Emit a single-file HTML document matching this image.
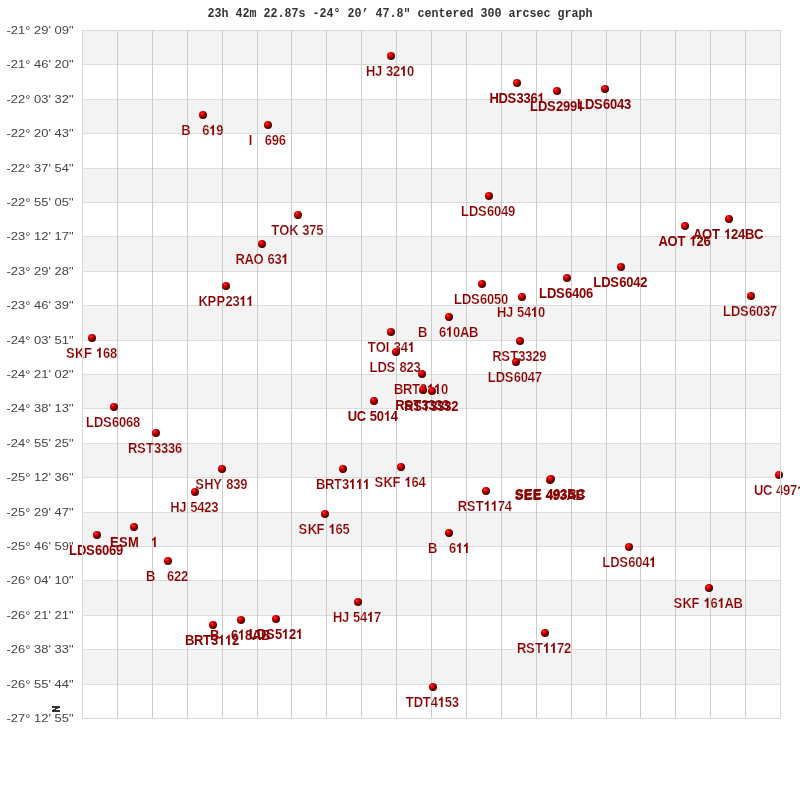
<!DOCTYPE html><html><head><meta charset="utf-8"><style>html,body{margin:0;padding:0;background:#fff;width:800px;height:800px;overflow:hidden}svg{display:block}</style></head><body>
<svg width="800" height="800" viewBox="0 0 800 800" style="will-change:transform">
<defs><radialGradient id="g" cx="0.36" cy="0.33" r="0.72" fx="0.36" fy="0.3"><stop offset="0" stop-color="#ff8a8a"/><stop offset="0.1" stop-color="#ff1a1a"/><stop offset="0.3" stop-color="#e40000"/><stop offset="0.52" stop-color="#a80000"/><stop offset="0.78" stop-color="#620000"/><stop offset="1" stop-color="#3a0000"/></radialGradient></defs>
<rect x="0" y="0" width="800" height="800" fill="#fff"/>
<rect x="82" y="30" width="698" height="34" fill="#f3f3f3"/>
<rect x="82" y="99" width="698" height="34" fill="#f3f3f3"/>
<rect x="82" y="168" width="698" height="34" fill="#f3f3f3"/>
<rect x="82" y="236" width="698" height="35" fill="#f3f3f3"/>
<rect x="82" y="305" width="698" height="35" fill="#f3f3f3"/>
<rect x="82" y="374" width="698" height="34" fill="#f3f3f3"/>
<rect x="82" y="443" width="698" height="34" fill="#f3f3f3"/>
<rect x="82" y="512" width="698" height="34" fill="#f3f3f3"/>
<rect x="82" y="580" width="698" height="35" fill="#f3f3f3"/>
<rect x="82" y="649" width="698" height="35" fill="#f3f3f3"/>
<rect x="82" y="64" width="699" height="1" fill="#dedede"/>
<rect x="82" y="99" width="699" height="1" fill="#dedede"/>
<rect x="82" y="133" width="699" height="1" fill="#dedede"/>
<rect x="82" y="168" width="699" height="1" fill="#dedede"/>
<rect x="82" y="202" width="699" height="1" fill="#dedede"/>
<rect x="82" y="236" width="699" height="1" fill="#dedede"/>
<rect x="82" y="271" width="699" height="1" fill="#dedede"/>
<rect x="82" y="305" width="699" height="1" fill="#dedede"/>
<rect x="82" y="340" width="699" height="1" fill="#dedede"/>
<rect x="82" y="374" width="699" height="1" fill="#dedede"/>
<rect x="82" y="408" width="699" height="1" fill="#dedede"/>
<rect x="82" y="443" width="699" height="1" fill="#dedede"/>
<rect x="82" y="477" width="699" height="1" fill="#dedede"/>
<rect x="82" y="512" width="699" height="1" fill="#dedede"/>
<rect x="82" y="546" width="699" height="1" fill="#dedede"/>
<rect x="82" y="580" width="699" height="1" fill="#dedede"/>
<rect x="82" y="615" width="699" height="1" fill="#dedede"/>
<rect x="82" y="649" width="699" height="1" fill="#dedede"/>
<rect x="82" y="684" width="699" height="1" fill="#dedede"/>
<rect x="117" y="30" width="1" height="689" fill="#cccccc"/>
<rect x="152" y="30" width="1" height="689" fill="#cccccc"/>
<rect x="187" y="30" width="1" height="689" fill="#cccccc"/>
<rect x="222" y="30" width="1" height="689" fill="#cccccc"/>
<rect x="257" y="30" width="1" height="689" fill="#cccccc"/>
<rect x="291" y="30" width="1" height="689" fill="#cccccc"/>
<rect x="326" y="30" width="1" height="689" fill="#cccccc"/>
<rect x="361" y="30" width="1" height="689" fill="#cccccc"/>
<rect x="396" y="30" width="1" height="689" fill="#cccccc"/>
<rect x="431" y="30" width="1" height="689" fill="#cccccc"/>
<rect x="466" y="30" width="1" height="689" fill="#cccccc"/>
<rect x="501" y="30" width="1" height="689" fill="#cccccc"/>
<rect x="536" y="30" width="1" height="689" fill="#cccccc"/>
<rect x="571" y="30" width="1" height="689" fill="#cccccc"/>
<rect x="606" y="30" width="1" height="689" fill="#cccccc"/>
<rect x="640" y="30" width="1" height="689" fill="#cccccc"/>
<rect x="675" y="30" width="1" height="689" fill="#cccccc"/>
<rect x="710" y="30" width="1" height="689" fill="#cccccc"/>
<rect x="745" y="30" width="1" height="689" fill="#cccccc"/>
<text x="207.5" y="17" font-family="Liberation Mono, monospace" font-weight="bold" font-size="12" fill="#333" textLength="385" lengthAdjust="spacingAndGlyphs">23h 42m 22.87s -24° 20’ 47.8" centered 300 arcsec graph</text>
<text x="73.5" y="34" text-anchor="end" font-family="Liberation Sans, sans-serif" font-size="11" fill="#444" textLength="67" lengthAdjust="spacingAndGlyphs">-21° 29' 09"</text>
<text x="73.5" y="68" text-anchor="end" font-family="Liberation Sans, sans-serif" font-size="11" fill="#444" textLength="67" lengthAdjust="spacingAndGlyphs">-21° 46' 20"</text>
<text x="73.5" y="103" text-anchor="end" font-family="Liberation Sans, sans-serif" font-size="11" fill="#444" textLength="67" lengthAdjust="spacingAndGlyphs">-22° 03' 32"</text>
<text x="73.5" y="137" text-anchor="end" font-family="Liberation Sans, sans-serif" font-size="11" fill="#444" textLength="67" lengthAdjust="spacingAndGlyphs">-22° 20' 43"</text>
<text x="73.5" y="172" text-anchor="end" font-family="Liberation Sans, sans-serif" font-size="11" fill="#444" textLength="67" lengthAdjust="spacingAndGlyphs">-22° 37' 54"</text>
<text x="73.5" y="206" text-anchor="end" font-family="Liberation Sans, sans-serif" font-size="11" fill="#444" textLength="67" lengthAdjust="spacingAndGlyphs">-22° 55' 05"</text>
<text x="73.5" y="240" text-anchor="end" font-family="Liberation Sans, sans-serif" font-size="11" fill="#444" textLength="67" lengthAdjust="spacingAndGlyphs">-23° 12' 17"</text>
<text x="73.5" y="275" text-anchor="end" font-family="Liberation Sans, sans-serif" font-size="11" fill="#444" textLength="67" lengthAdjust="spacingAndGlyphs">-23° 29' 28"</text>
<text x="73.5" y="309" text-anchor="end" font-family="Liberation Sans, sans-serif" font-size="11" fill="#444" textLength="67" lengthAdjust="spacingAndGlyphs">-23° 46' 39"</text>
<text x="73.5" y="344" text-anchor="end" font-family="Liberation Sans, sans-serif" font-size="11" fill="#444" textLength="67" lengthAdjust="spacingAndGlyphs">-24° 03' 51"</text>
<text x="73.5" y="378" text-anchor="end" font-family="Liberation Sans, sans-serif" font-size="11" fill="#444" textLength="67" lengthAdjust="spacingAndGlyphs">-24° 21' 02"</text>
<text x="73.5" y="412" text-anchor="end" font-family="Liberation Sans, sans-serif" font-size="11" fill="#444" textLength="67" lengthAdjust="spacingAndGlyphs">-24° 38' 13"</text>
<text x="73.5" y="447" text-anchor="end" font-family="Liberation Sans, sans-serif" font-size="11" fill="#444" textLength="67" lengthAdjust="spacingAndGlyphs">-24° 55' 25"</text>
<text x="73.5" y="481" text-anchor="end" font-family="Liberation Sans, sans-serif" font-size="11" fill="#444" textLength="67" lengthAdjust="spacingAndGlyphs">-25° 12' 36"</text>
<text x="73.5" y="516" text-anchor="end" font-family="Liberation Sans, sans-serif" font-size="11" fill="#444" textLength="67" lengthAdjust="spacingAndGlyphs">-25° 29' 47"</text>
<text x="73.5" y="550" text-anchor="end" font-family="Liberation Sans, sans-serif" font-size="11" fill="#444" textLength="67" lengthAdjust="spacingAndGlyphs">-25° 46' 59"</text>
<text x="73.5" y="584" text-anchor="end" font-family="Liberation Sans, sans-serif" font-size="11" fill="#444" textLength="67" lengthAdjust="spacingAndGlyphs">-26° 04' 10"</text>
<text x="73.5" y="619" text-anchor="end" font-family="Liberation Sans, sans-serif" font-size="11" fill="#444" textLength="67" lengthAdjust="spacingAndGlyphs">-26° 21' 21"</text>
<text x="73.5" y="653" text-anchor="end" font-family="Liberation Sans, sans-serif" font-size="11" fill="#444" textLength="67" lengthAdjust="spacingAndGlyphs">-26° 38' 33"</text>
<text x="73.5" y="688" text-anchor="end" font-family="Liberation Sans, sans-serif" font-size="11" fill="#444" textLength="67" lengthAdjust="spacingAndGlyphs">-26° 55' 44"</text>
<text x="73.5" y="722" text-anchor="end" font-family="Liberation Sans, sans-serif" font-size="11" fill="#444" textLength="67" lengthAdjust="spacingAndGlyphs">-27° 12' 55"</text>
<path fill="#333" d="M52 706h8v2h-8zM55 708h3v1h-3zM53 709h3v1h-3zM52 710h8v2h-8z"/>
<text transform="translate(0,76.05) scale(1,1.1)" x="365.97 374.97 381.97 385.97 392.97 399.97 406.97" y="0" font-family="Liberation Sans, sans-serif" font-weight="bold" font-size="13" fill="#8b0000" stroke="#ffffff" stroke-width="0.2">HJ&#160;32&#160;0</text>
<path fill="#8b0000" transform="translate(399.97,76.05) scale(0.006348,-0.006982)" d="M763 0L482 0L482 1050C380 955 260 885 166 853L166 1107C240 1132 325 1180 410 1247C495 1313 555 1387 590 1466L763 1466Z"/>
<text transform="translate(0,103.05) scale(1,1.1)" x="489.39 498.39 507.39 516.39 523.39 530.39 537.39" y="0" font-family="Liberation Sans, sans-serif" font-weight="bold" font-size="13" fill="#8b0000">HDS336&#160;</text>
<path fill="#8b0000" transform="translate(537.39,103.05) scale(0.006348,-0.006982)" d="M763 0L482 0L482 1050C380 955 260 885 166 853L166 1107C240 1132 325 1180 410 1247C495 1313 555 1387 590 1466L763 1466Z"/>
<text transform="translate(0,111.05) scale(1,1.1)" x="529.89 537.89 546.89 555.89 562.89 569.89 576.89" y="0" font-family="Liberation Sans, sans-serif" font-weight="bold" font-size="13" fill="#8b0000">LDS299&#160;</text>
<path fill="#8b0000" transform="translate(576.89,111.05) scale(0.006348,-0.006982)" d="M763 0L482 0L482 1050C380 955 260 885 166 853L166 1107C240 1132 325 1180 410 1247C495 1313 555 1387 590 1466L763 1466Z"/>
<text transform="translate(0,109.30) scale(1,1.1)" x="576.94 584.94 593.94 602.94 609.94 616.94 623.94" y="0" font-family="Liberation Sans, sans-serif" font-weight="bold" font-size="13" fill="#8b0000">LDS6043</text>
<text transform="translate(0,135.30) scale(1,1.1)" x="181.19 190.19 194.19 198.19 202.19 209.19 216.19" y="0" font-family="Liberation Sans, sans-serif" font-weight="bold" font-size="13" fill="#8b0000" stroke="#ffffff" stroke-width="0.2">B&#160;&#160;&#160;6&#160;9</text>
<path fill="#8b0000" transform="translate(209.19,135.30) scale(0.006348,-0.006982)" d="M763 0L482 0L482 1050C380 955 260 885 166 853L166 1107C240 1132 325 1180 410 1247C495 1313 555 1387 590 1466L763 1466Z"/>
<text transform="translate(0,145.30) scale(1,1.1)" x="248.69 252.69 256.69 260.69 264.69 271.69 278.69" y="0" font-family="Liberation Sans, sans-serif" font-weight="bold" font-size="13" fill="#8b0000" stroke="#ffffff" stroke-width="0.2">I&#160;&#160;&#160;696</text>
<text transform="translate(0,216.05) scale(1,1.1)" x="460.94 468.94 477.94 486.94 493.94 500.94 507.94" y="0" font-family="Liberation Sans, sans-serif" font-weight="bold" font-size="13" fill="#8b0000" stroke="#ffffff" stroke-width="0.2">LDS6049</text>
<text transform="translate(0,235.05) scale(1,1.1)" x="271.24 279.24 289.24 298.24 302.24 309.24 316.24" y="0" font-family="Liberation Sans, sans-serif" font-weight="bold" font-size="13" fill="#8b0000" stroke="#ffffff" stroke-width="0.2">TOK&#160;375</text>
<text transform="translate(0,245.80) scale(1,1.1)" x="658.46 667.46 677.46 685.46 689.46 696.46 703.46" y="0" font-family="Liberation Sans, sans-serif" font-weight="bold" font-size="13" fill="#8b0000">AOT&#160;&#160;26</text>
<path fill="#8b0000" transform="translate(689.46,245.80) scale(0.006348,-0.006982)" d="M763 0L482 0L482 1050C380 955 260 885 166 853L166 1107C240 1132 325 1180 410 1247C495 1313 555 1387 590 1466L763 1466Z"/>
<text transform="translate(0,239.05) scale(1,1.1)" x="693.07 702.07 712.07 720.07 724.07 731.07 738.07 745.07 754.07" y="0" font-family="Liberation Sans, sans-serif" font-weight="bold" font-size="13" fill="#8b0000">AOT&#160;&#160;24BC</text>
<path fill="#8b0000" transform="translate(724.07,239.05) scale(0.006348,-0.006982)" d="M763 0L482 0L482 1050C380 955 260 885 166 853L166 1107C240 1132 325 1180 410 1247C495 1313 555 1387 590 1466L763 1466Z"/>
<text transform="translate(0,264.05) scale(1,1.1)" x="235.39 244.39 253.39 263.39 267.39 274.39 281.39" y="0" font-family="Liberation Sans, sans-serif" font-weight="bold" font-size="13" fill="#8b0000" stroke="#ffffff" stroke-width="0.2">RAO&#160;63&#160;</text>
<path fill="#8b0000" transform="translate(281.39,264.05) scale(0.006348,-0.006982)" d="M763 0L482 0L482 1050C380 955 260 885 166 853L166 1107C240 1132 325 1180 410 1247C495 1313 555 1387 590 1466L763 1466Z"/>
<text transform="translate(0,287.05) scale(1,1.1)" x="593.21 601.21 610.21 619.21 626.21 633.21 640.21" y="0" font-family="Liberation Sans, sans-serif" font-weight="bold" font-size="13" fill="#8b0000">LDS6042</text>
<text transform="translate(0,298.05) scale(1,1.1)" x="538.94 546.94 555.94 564.94 571.94 578.94 585.94" y="0" font-family="Liberation Sans, sans-serif" font-weight="bold" font-size="13" fill="#8b0000">LDS6406</text>
<text transform="translate(0,304.05) scale(1,1.1)" x="453.97 461.97 470.97 479.97 486.97 493.97 500.97" y="0" font-family="Liberation Sans, sans-serif" font-weight="bold" font-size="13" fill="#8b0000" stroke="#ffffff" stroke-width="0.2">LDS6050</text>
<text transform="translate(0,306.05) scale(1,1.1)" x="198.39 207.39 216.39 225.39 232.39 239.39 246.39" y="0" font-family="Liberation Sans, sans-serif" font-weight="bold" font-size="13" fill="#8b0000" stroke="#ffffff" stroke-width="0.2">KPP23&#160;&#160;</text>
<path fill="#8b0000" transform="translate(239.39,306.05) scale(0.006348,-0.006982)" d="M763 0L482 0L482 1050C380 955 260 885 166 853L166 1107C240 1132 325 1180 410 1247C495 1313 555 1387 590 1466L763 1466Z"/>
<path fill="#8b0000" transform="translate(246.39,306.05) scale(0.006348,-0.006982)" d="M763 0L482 0L482 1050C380 955 260 885 166 853L166 1107C240 1132 325 1180 410 1247C495 1313 555 1387 590 1466L763 1466Z"/>
<text transform="translate(0,317.05) scale(1,1.1)" x="496.97 505.97 512.97 516.97 523.97 530.97 537.97" y="0" font-family="Liberation Sans, sans-serif" font-weight="bold" font-size="13" fill="#8b0000" stroke="#ffffff" stroke-width="0.2">HJ&#160;54&#160;0</text>
<path fill="#8b0000" transform="translate(530.97,317.05) scale(0.006348,-0.006982)" d="M763 0L482 0L482 1050C380 955 260 885 166 853L166 1107C240 1132 325 1180 410 1247C495 1313 555 1387 590 1466L763 1466Z"/>
<text transform="translate(0,316.05) scale(1,1.1)" x="722.99 730.99 739.99 748.99 755.99 762.99 769.99" y="0" font-family="Liberation Sans, sans-serif" font-weight="bold" font-size="13" fill="#8b0000" stroke="#ffffff" stroke-width="0.2">LDS6037</text>
<text transform="translate(0,336.80) scale(1,1.1)" x="417.92 426.92 430.92 434.92 438.92 445.92 452.92 459.92 468.92" y="0" font-family="Liberation Sans, sans-serif" font-weight="bold" font-size="13" fill="#8b0000" stroke="#ffffff" stroke-width="0.2">B&#160;&#160;&#160;6&#160;0AB</text>
<path fill="#8b0000" transform="translate(445.92,336.80) scale(0.006348,-0.006982)" d="M763 0L482 0L482 1050C380 955 260 885 166 853L166 1107C240 1132 325 1180 410 1247C495 1313 555 1387 590 1466L763 1466Z"/>
<text transform="translate(0,352.05) scale(1,1.1)" x="367.76 375.76 385.76 389.76 393.76 400.76 407.76" y="0" font-family="Liberation Sans, sans-serif" font-weight="bold" font-size="13" fill="#8b0000" stroke="#ffffff" stroke-width="0.2">TOI&#160;34&#160;</text>
<path fill="#8b0000" transform="translate(407.76,352.05) scale(0.006348,-0.006982)" d="M763 0L482 0L482 1050C380 955 260 885 166 853L166 1107C240 1132 325 1180 410 1247C495 1313 555 1387 590 1466L763 1466Z"/>
<text transform="translate(0,357.80) scale(1,1.1)" x="65.90 74.90 83.90 91.90 95.90 102.90 109.90" y="0" font-family="Liberation Sans, sans-serif" font-weight="bold" font-size="13" fill="#8b0000" stroke="#ffffff" stroke-width="0.2">SKF&#160;&#160;68</text>
<path fill="#8b0000" transform="translate(95.90,357.80) scale(0.006348,-0.006982)" d="M763 0L482 0L482 1050C380 955 260 885 166 853L166 1107C240 1132 325 1180 410 1247C495 1313 555 1387 590 1466L763 1466Z"/>
<text transform="translate(0,361.05) scale(1,1.1)" x="492.19 501.19 510.19 518.19 525.19 532.19 539.19" y="0" font-family="Liberation Sans, sans-serif" font-weight="bold" font-size="13" fill="#8b0000" stroke="#ffffff" stroke-width="0.2">RST3329</text>
<text transform="translate(0,372.05) scale(1,1.1)" x="369.44 377.44 386.44 395.44 399.44 406.44 413.44" y="0" font-family="Liberation Sans, sans-serif" font-weight="bold" font-size="13" fill="#8b0000" stroke="#ffffff" stroke-width="0.2">LDS&#160;823</text>
<text transform="translate(0,382.05) scale(1,1.1)" x="487.74 495.74 504.74 513.74 520.74 527.74 534.74" y="0" font-family="Liberation Sans, sans-serif" font-weight="bold" font-size="13" fill="#8b0000" stroke="#ffffff" stroke-width="0.2">LDS6047</text>
<text transform="translate(0,394.00) scale(1,1.1)" x="393.92 402.92 411.92 419.92 426.92 433.92 440.92" y="0" font-family="Liberation Sans, sans-serif" font-weight="bold" font-size="13" fill="#8b0000" stroke="#ffffff" stroke-width="0.2">BRT3&#160;&#160;0</text>
<path fill="#8b0000" transform="translate(426.92,394.00) scale(0.006348,-0.006982)" d="M763 0L482 0L482 1050C380 955 260 885 166 853L166 1107C240 1132 325 1180 410 1247C495 1313 555 1387 590 1466L763 1466Z"/>
<path fill="#8b0000" transform="translate(433.92,394.00) scale(0.006348,-0.006982)" d="M763 0L482 0L482 1050C380 955 260 885 166 853L166 1107C240 1132 325 1180 410 1247C495 1313 555 1387 590 1466L763 1466Z"/>
<text transform="translate(0,410.30) scale(1,1.1)" x="395.19 404.19 413.19 421.19 428.19 435.19 442.19" y="0" font-family="Liberation Sans, sans-serif" font-weight="bold" font-size="13" fill="#8b0000">RST3333</text>
<text transform="translate(0,411.30) scale(1,1.1)" x="404.21 413.21 422.21 430.21 437.21 444.21 451.21" y="0" font-family="Liberation Sans, sans-serif" font-weight="bold" font-size="13" fill="#8b0000">RST3332</text>
<text transform="translate(0,421.10) scale(1,1.1)" x="347.83 356.83 365.83 369.83 376.83 383.83 390.83" y="0" font-family="Liberation Sans, sans-serif" font-weight="bold" font-size="13" fill="#8b0000">UC&#160;50&#160;4</text>
<path fill="#8b0000" transform="translate(383.83,421.10) scale(0.006348,-0.006982)" d="M763 0L482 0L482 1050C380 955 260 885 166 853L166 1107C240 1132 325 1180 410 1247C495 1313 555 1387 590 1466L763 1466Z"/>
<text transform="translate(0,427.05) scale(1,1.1)" x="85.90 93.90 102.90 111.90 118.90 125.90 132.90" y="0" font-family="Liberation Sans, sans-serif" font-weight="bold" font-size="13" fill="#8b0000" stroke="#ffffff" stroke-width="0.2">LDS6068</text>
<text transform="translate(0,453.05) scale(1,1.1)" x="127.94 136.94 145.94 153.94 160.94 167.94 174.94" y="0" font-family="Liberation Sans, sans-serif" font-weight="bold" font-size="13" fill="#8b0000" stroke="#ffffff" stroke-width="0.2">RST3336</text>
<text transform="translate(0,489.05) scale(1,1.1)" x="195.19 204.19 213.19 222.19 226.19 233.19 240.19" y="0" font-family="Liberation Sans, sans-serif" font-weight="bold" font-size="13" fill="#8b0000" stroke="#ffffff" stroke-width="0.2">SHY&#160;839</text>
<text transform="translate(0,489.05) scale(1,1.1)" x="315.89 324.89 333.89 341.89 348.89 355.89 362.89" y="0" font-family="Liberation Sans, sans-serif" font-weight="bold" font-size="13" fill="#8b0000" stroke="#ffffff" stroke-width="0.2">BRT3&#160;&#160;&#160;</text>
<path fill="#8b0000" transform="translate(348.89,489.05) scale(0.006348,-0.006982)" d="M763 0L482 0L482 1050C380 955 260 885 166 853L166 1107C240 1132 325 1180 410 1247C495 1313 555 1387 590 1466L763 1466Z"/>
<path fill="#8b0000" transform="translate(355.89,489.05) scale(0.006348,-0.006982)" d="M763 0L482 0L482 1050C380 955 260 885 166 853L166 1107C240 1132 325 1180 410 1247C495 1313 555 1387 590 1466L763 1466Z"/>
<path fill="#8b0000" transform="translate(362.89,489.05) scale(0.006348,-0.006982)" d="M763 0L482 0L482 1050C380 955 260 885 166 853L166 1107C240 1132 325 1180 410 1247C495 1313 555 1387 590 1466L763 1466Z"/>
<text transform="translate(0,487.05) scale(1,1.1)" x="374.48 383.48 392.48 400.48 404.48 411.48 418.48" y="0" font-family="Liberation Sans, sans-serif" font-weight="bold" font-size="13" fill="#8b0000" stroke="#ffffff" stroke-width="0.2">SKF&#160;&#160;64</text>
<path fill="#8b0000" transform="translate(404.48,487.05) scale(0.006348,-0.006982)" d="M763 0L482 0L482 1050C380 955 260 885 166 853L166 1107C240 1132 325 1180 410 1247C495 1313 555 1387 590 1466L763 1466Z"/>
<text transform="translate(0,495.20) scale(1,1.1)" x="753.99 762.99 771.99 775.99 782.99 789.99 796.99" y="0" font-family="Liberation Sans, sans-serif" font-weight="bold" font-size="13" fill="#8b0000" stroke="#ffffff" stroke-width="0.2">UC&#160;497&#160;</text>
<path fill="#8b0000" transform="translate(796.99,495.20) scale(0.006348,-0.006982)" d="M763 0L482 0L482 1050C380 955 260 885 166 853L166 1107C240 1132 325 1180 410 1247C495 1313 555 1387 590 1466L763 1466Z"/>
<text transform="translate(0,499.80) scale(1,1.1)" x="514.41 523.41 532.41 541.41 545.41 552.41 559.41 566.41 575.41" y="0" font-family="Liberation Sans, sans-serif" font-weight="bold" font-size="13" fill="#8b0000">SEE&#160;493AB</text>
<text transform="translate(0,498.80) scale(1,1.1)" x="515.30 524.30 533.30 542.30 546.30 553.30 560.30 567.30 576.30" y="0" font-family="Liberation Sans, sans-serif" font-weight="bold" font-size="13" fill="#8b0000">SEE&#160;493BC</text>
<text transform="translate(0,511.05) scale(1,1.1)" x="457.74 466.74 475.74 483.74 490.74 497.74 504.74" y="0" font-family="Liberation Sans, sans-serif" font-weight="bold" font-size="13" fill="#8b0000" stroke="#ffffff" stroke-width="0.2">RST&#160;&#160;74</text>
<path fill="#8b0000" transform="translate(483.74,511.05) scale(0.006348,-0.006982)" d="M763 0L482 0L482 1050C380 955 260 885 166 853L166 1107C240 1132 325 1180 410 1247C495 1313 555 1387 590 1466L763 1466Z"/>
<path fill="#8b0000" transform="translate(490.74,511.05) scale(0.006348,-0.006982)" d="M763 0L482 0L482 1050C380 955 260 885 166 853L166 1107C240 1132 325 1180 410 1247C495 1313 555 1387 590 1466L763 1466Z"/>
<text transform="translate(0,512.05) scale(1,1.1)" x="170.19 179.19 186.19 190.19 197.19 204.19 211.19" y="0" font-family="Liberation Sans, sans-serif" font-weight="bold" font-size="13" fill="#8b0000" stroke="#ffffff" stroke-width="0.2">HJ&#160;5423</text>
<text transform="translate(0,534.05) scale(1,1.1)" x="298.63 307.63 316.63 324.63 328.63 335.63 342.63" y="0" font-family="Liberation Sans, sans-serif" font-weight="bold" font-size="13" fill="#8b0000" stroke="#ffffff" stroke-width="0.2">SKF&#160;&#160;65</text>
<path fill="#8b0000" transform="translate(328.63,534.05) scale(0.006348,-0.006982)" d="M763 0L482 0L482 1050C380 955 260 885 166 853L166 1107C240 1132 325 1180 410 1247C495 1313 555 1387 590 1466L763 1466Z"/>
<text transform="translate(0,547.05) scale(1,1.1)" x="109.89 118.89 127.89 138.89 142.89 146.89 150.89" y="0" font-family="Liberation Sans, sans-serif" font-weight="bold" font-size="13" fill="#8b0000">ESM&#160;&#160;&#160;&#160;</text>
<path fill="#8b0000" transform="translate(150.89,547.05) scale(0.006348,-0.006982)" d="M763 0L482 0L482 1050C380 955 260 885 166 853L166 1107C240 1132 325 1180 410 1247C495 1313 555 1387 590 1466L763 1466Z"/>
<text transform="translate(0,553.05) scale(1,1.1)" x="427.89 436.89 440.89 444.89 448.89 455.89 462.89" y="0" font-family="Liberation Sans, sans-serif" font-weight="bold" font-size="13" fill="#8b0000" stroke="#ffffff" stroke-width="0.2">B&#160;&#160;&#160;6&#160;&#160;</text>
<path fill="#8b0000" transform="translate(455.89,553.05) scale(0.006348,-0.006982)" d="M763 0L482 0L482 1050C380 955 260 885 166 853L166 1107C240 1132 325 1180 410 1247C495 1313 555 1387 590 1466L763 1466Z"/>
<path fill="#8b0000" transform="translate(462.89,553.05) scale(0.006348,-0.006982)" d="M763 0L482 0L482 1050C380 955 260 885 166 853L166 1107C240 1132 325 1180 410 1247C495 1313 555 1387 590 1466L763 1466Z"/>
<text transform="translate(0,555.05) scale(1,1.1)" x="68.94 76.94 85.94 94.94 101.94 108.94 115.94" y="0" font-family="Liberation Sans, sans-serif" font-weight="bold" font-size="13" fill="#8b0000">LDS6069</text>
<text transform="translate(0,567.00) scale(1,1.1)" x="602.14 610.14 619.14 628.14 635.14 642.14 649.14" y="0" font-family="Liberation Sans, sans-serif" font-weight="bold" font-size="13" fill="#8b0000" stroke="#ffffff" stroke-width="0.2">LDS604&#160;</text>
<path fill="#8b0000" transform="translate(649.14,567.00) scale(0.006348,-0.006982)" d="M763 0L482 0L482 1050C380 955 260 885 166 853L166 1107C240 1132 325 1180 410 1247C495 1313 555 1387 590 1466L763 1466Z"/>
<text transform="translate(0,581.05) scale(1,1.1)" x="145.96 154.96 158.96 162.96 166.96 173.96 180.96" y="0" font-family="Liberation Sans, sans-serif" font-weight="bold" font-size="13" fill="#8b0000" stroke="#ffffff" stroke-width="0.2">B&#160;&#160;&#160;622</text>
<text transform="translate(0,608.00) scale(1,1.1)" x="673.61 682.61 691.61 699.61 703.61 710.61 717.61 724.61 733.61" y="0" font-family="Liberation Sans, sans-serif" font-weight="bold" font-size="13" fill="#8b0000" stroke="#ffffff" stroke-width="0.2">SKF&#160;&#160;6&#160;AB</text>
<path fill="#8b0000" transform="translate(703.61,608.00) scale(0.006348,-0.006982)" d="M763 0L482 0L482 1050C380 955 260 885 166 853L166 1107C240 1132 325 1180 410 1247C495 1313 555 1387 590 1466L763 1466Z"/>
<path fill="#8b0000" transform="translate(717.61,608.00) scale(0.006348,-0.006982)" d="M763 0L482 0L482 1050C380 955 260 885 166 853L166 1107C240 1132 325 1180 410 1247C495 1313 555 1387 590 1466L763 1466Z"/>
<text transform="translate(0,622.05) scale(1,1.1)" x="332.99 341.99 348.99 352.99 359.99 366.99 373.99" y="0" font-family="Liberation Sans, sans-serif" font-weight="bold" font-size="13" fill="#8b0000" stroke="#ffffff" stroke-width="0.2">HJ&#160;54&#160;7</text>
<path fill="#8b0000" transform="translate(366.99,622.05) scale(0.006348,-0.006982)" d="M763 0L482 0L482 1050C380 955 260 885 166 853L166 1107C240 1132 325 1180 410 1247C495 1313 555 1387 590 1466L763 1466Z"/>
<text transform="translate(0,639.05) scale(1,1.1)" x="248.89 256.89 265.89 274.89 281.89 288.89 295.89" y="0" font-family="Liberation Sans, sans-serif" font-weight="bold" font-size="13" fill="#8b0000">LDS5&#160;2&#160;</text>
<path fill="#8b0000" transform="translate(281.89,639.05) scale(0.006348,-0.006982)" d="M763 0L482 0L482 1050C380 955 260 885 166 853L166 1107C240 1132 325 1180 410 1247C495 1313 555 1387 590 1466L763 1466Z"/>
<path fill="#8b0000" transform="translate(295.89,639.05) scale(0.006348,-0.006982)" d="M763 0L482 0L482 1050C380 955 260 885 166 853L166 1107C240 1132 325 1180 410 1247C495 1313 555 1387 590 1466L763 1466Z"/>
<text transform="translate(0,639.80) scale(1,1.1)" x="209.92 218.92 222.92 226.92 230.92 237.92 244.92 251.92 260.92" y="0" font-family="Liberation Sans, sans-serif" font-weight="bold" font-size="13" fill="#8b0000">B&#160;&#160;&#160;6&#160;8AB</text>
<path fill="#8b0000" transform="translate(237.92,639.80) scale(0.006348,-0.006982)" d="M763 0L482 0L482 1050C380 955 260 885 166 853L166 1107C240 1132 325 1180 410 1247C495 1313 555 1387 590 1466L763 1466Z"/>
<text transform="translate(0,645.05) scale(1,1.1)" x="184.96 193.96 202.96 210.96 217.96 224.96 231.96" y="0" font-family="Liberation Sans, sans-serif" font-weight="bold" font-size="13" fill="#8b0000">BRT3&#160;&#160;2</text>
<path fill="#8b0000" transform="translate(217.96,645.05) scale(0.006348,-0.006982)" d="M763 0L482 0L482 1050C380 955 260 885 166 853L166 1107C240 1132 325 1180 410 1247C495 1313 555 1387 590 1466L763 1466Z"/>
<path fill="#8b0000" transform="translate(224.96,645.05) scale(0.006348,-0.006982)" d="M763 0L482 0L482 1050C380 955 260 885 166 853L166 1107C240 1132 325 1180 410 1247C495 1313 555 1387 590 1466L763 1466Z"/>
<text transform="translate(0,653.05) scale(1,1.1)" x="516.96 525.96 534.96 542.96 549.96 556.96 563.96" y="0" font-family="Liberation Sans, sans-serif" font-weight="bold" font-size="13" fill="#8b0000" stroke="#ffffff" stroke-width="0.2">RST&#160;&#160;72</text>
<path fill="#8b0000" transform="translate(542.96,653.05) scale(0.006348,-0.006982)" d="M763 0L482 0L482 1050C380 955 260 885 166 853L166 1107C240 1132 325 1180 410 1247C495 1313 555 1387 590 1466L763 1466Z"/>
<path fill="#8b0000" transform="translate(549.96,653.05) scale(0.006348,-0.006982)" d="M763 0L482 0L482 1050C380 955 260 885 166 853L166 1107C240 1132 325 1180 410 1247C495 1313 555 1387 590 1466L763 1466Z"/>
<text transform="translate(0,707.05) scale(1,1.1)" x="405.80 413.80 422.80 430.80 437.80 444.80 451.80" y="0" font-family="Liberation Sans, sans-serif" font-weight="bold" font-size="13" fill="#8b0000" stroke="#ffffff" stroke-width="0.2">TDT4&#160;53</text>
<path fill="#8b0000" transform="translate(437.80,707.05) scale(0.006348,-0.006982)" d="M763 0L482 0L482 1050C380 955 260 885 166 853L166 1107C240 1132 325 1180 410 1247C495 1313 555 1387 590 1466L763 1466Z"/>
<circle cx="391" cy="56" r="4" fill="url(#g)"/>
<circle cx="517" cy="83" r="4" fill="url(#g)"/>
<circle cx="557" cy="91" r="4" fill="url(#g)"/>
<circle cx="605" cy="89" r="4" fill="url(#g)"/>
<circle cx="203" cy="115" r="4" fill="url(#g)"/>
<circle cx="268" cy="125" r="4" fill="url(#g)"/>
<circle cx="489" cy="196" r="4" fill="url(#g)"/>
<circle cx="298" cy="215" r="4" fill="url(#g)"/>
<circle cx="685" cy="226" r="4" fill="url(#g)"/>
<circle cx="729" cy="219" r="4" fill="url(#g)"/>
<circle cx="262" cy="244" r="4" fill="url(#g)"/>
<circle cx="621" cy="267" r="4" fill="url(#g)"/>
<circle cx="567" cy="278" r="4" fill="url(#g)"/>
<circle cx="482" cy="284" r="4" fill="url(#g)"/>
<circle cx="226" cy="286" r="4" fill="url(#g)"/>
<circle cx="522" cy="297" r="4" fill="url(#g)"/>
<circle cx="751" cy="296" r="4" fill="url(#g)"/>
<circle cx="449" cy="317" r="4" fill="url(#g)"/>
<circle cx="391" cy="332" r="4" fill="url(#g)"/>
<circle cx="92" cy="338" r="4" fill="url(#g)"/>
<circle cx="520" cy="341" r="4" fill="url(#g)"/>
<circle cx="396" cy="352" r="4" fill="url(#g)"/>
<circle cx="516" cy="362" r="4" fill="url(#g)"/>
<circle cx="422" cy="374" r="4" fill="url(#g)"/>
<circle cx="423" cy="390" r="4" fill="url(#g)"/>
<circle cx="432" cy="391" r="4" fill="url(#g)"/>
<circle cx="374" cy="401" r="4" fill="url(#g)"/>
<circle cx="114" cy="407" r="4" fill="url(#g)"/>
<circle cx="156" cy="433" r="4" fill="url(#g)"/>
<circle cx="222" cy="469" r="4" fill="url(#g)"/>
<circle cx="343" cy="469" r="4" fill="url(#g)"/>
<circle cx="401" cy="467" r="4" fill="url(#g)"/>
<circle cx="779" cy="475" r="4" fill="url(#g)"/>
<circle cx="550" cy="480" r="4" fill="url(#g)"/>
<circle cx="551" cy="479" r="4" fill="url(#g)"/>
<circle cx="486" cy="491" r="4" fill="url(#g)"/>
<circle cx="195" cy="492" r="4" fill="url(#g)"/>
<circle cx="325" cy="514" r="4" fill="url(#g)"/>
<circle cx="134" cy="527" r="4" fill="url(#g)"/>
<circle cx="449" cy="533" r="4" fill="url(#g)"/>
<circle cx="97" cy="535" r="4" fill="url(#g)"/>
<circle cx="629" cy="547" r="4" fill="url(#g)"/>
<circle cx="168" cy="561" r="4" fill="url(#g)"/>
<circle cx="709" cy="588" r="4" fill="url(#g)"/>
<circle cx="358" cy="602" r="4" fill="url(#g)"/>
<circle cx="276" cy="619" r="4" fill="url(#g)"/>
<circle cx="241" cy="620" r="4" fill="url(#g)"/>
<circle cx="213" cy="625" r="4" fill="url(#g)"/>
<circle cx="545" cy="633" r="4" fill="url(#g)"/>
<circle cx="433" cy="687" r="4" fill="url(#g)"/>
<rect x="82" y="30" width="1" height="689" fill="#d9d9d9"/>
<rect x="780" y="30" width="1" height="689" fill="#d9d9d9"/>
<rect x="82" y="30" width="699" height="1" fill="#d9d9d9"/>
<rect x="82" y="718" width="699" height="1" fill="#d9d9d9"/>
</svg></body></html>
